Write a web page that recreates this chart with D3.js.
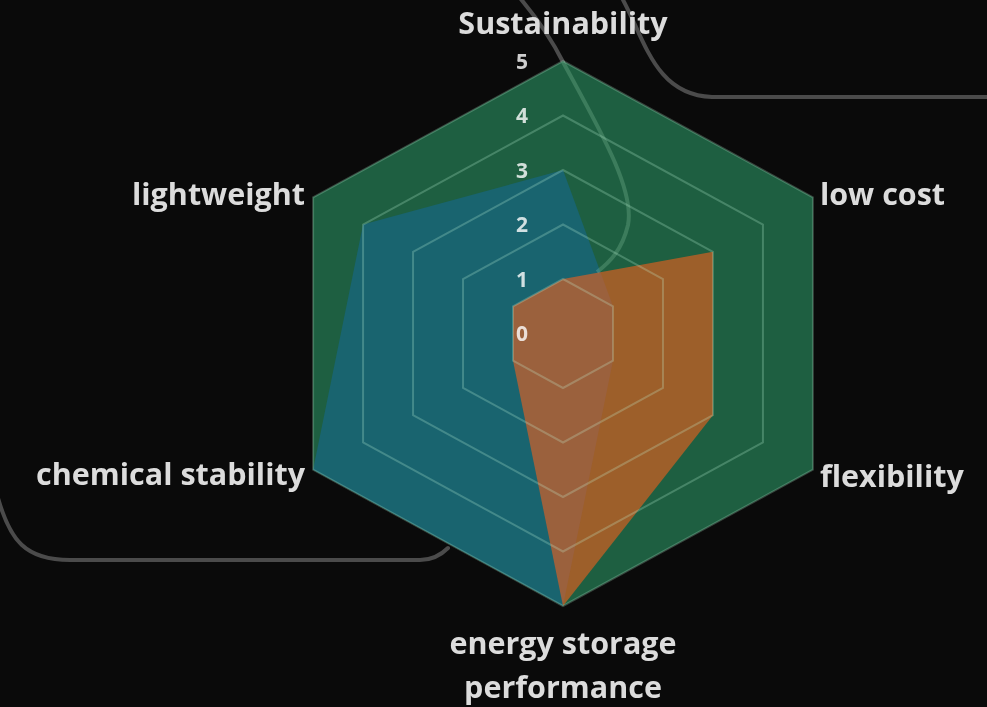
<!DOCTYPE html>
<html>
<head>
<meta charset="utf-8">
<script src="https://cdn.jsdelivr.net/npm/d3@7"></script>
<style>
  html, body { margin: 0; padding: 0; background: #0a0a0a; }
  svg { display: block; filter: blur(0.5px); }
</style>
</head>
<body>
<svg id="chart" width="987" height="707"></svg>
<script>
// ---- data ----
const categories = ["Sustainability", "low cost", "flexibility", "energy storage performance", "chemical stability", "lightweight"];
const seriesGreen  = [5, 5, 5, 5, 5, 5];
const seriesBlue   = [3, 1, 1, 5, 5, 4];
const seriesOrange = [1, 3, 3, 5, 1, 1];
const tickValues = [0, 1, 2, 3, 4, 5];

// ---- layout ----
const W = 987, H = 707;
const cx = 563, cy = 333.5, R = 272.5, sx = 1.059;
const svg = d3.select("#chart");
svg.append("rect").attr("width", W).attr("height", H).attr("fill", "#0a0a0a");

const r = d3.scaleLinear().domain([0, 5]).range([0, R]);
const angle = d3.scalePoint().domain(d3.range(categories.length)).range([0, 2 * Math.PI * (categories.length - 1) / categories.length]);

const radial = d3.lineRadial()
  .angle((d, i) => angle(i))
  .radius(d => r(d))
  .curve(d3.curveLinearClosed);

// decorative slide connectors (background)
const deco = svg.append("g").attr("fill", "none").attr("stroke", "#4b4b4b").attr("stroke-width", 4).attr("stroke-linecap", "round");
deco.append("path").attr("d", "M622,-2 C645,40 655,95 712,97 L990,97");
deco.append("path").attr("d", "M-2,498 C10,540 25,560 70,560 L420,560 C432,560 440,556 448,548");
deco.append("path").attr("d", "M520,-2 C540,22 552,40 563,62");

const g = svg.append("g").attr("transform", `translate(${cx},${cy}) scale(${sx},1)`);

const series = [
  { vals: seriesGreen,  fill: "#1e5f41", op: 1 },
  { vals: seriesBlue,   fill: "#19646f", op: 1 },
  { vals: seriesOrange, fill: "#fa5f19", op: 0.58 }
];
g.selectAll("path.series").data(series).join("path")
  .attr("class", "series")
  .attr("d", s => radial(s.vals))
  .attr("fill", s => s.fill)
  .attr("fill-opacity", s => s.op)
  .attr("stroke", "none");

// grid rings on top (semi-transparent like the reference)
g.selectAll("path.ring").data(tickValues.filter(t => t > 0)).join("path")
  .attr("class", "ring")
  .attr("d", t => radial(categories.map(() => t)))
  .attr("fill", "none")
  .attr("stroke", "rgba(200,255,225,0.24)")
  .attr("stroke-width", 2)
  .attr("vector-effect", "non-scaling-stroke");

// decorative line crossing the chart (faint over fills)
svg.append("path").attr("d", "M563,62 C600,130 635,190 628,225 C622,250 610,262 597,272")
  .attr("fill", "none").attr("stroke", "rgba(180,240,200,0.2)").attr("stroke-width", 4);

// tick labels
svg.selectAll("text.tick").data(tickValues).join("text")
  .attr("class", "tick")
  .attr("x", 522)
  .attr("y", t => cy - r(t))
  .attr("dy", "0.36em")
  .attr("text-anchor", "middle")
  .attr("font-family", "'Open Sans', sans-serif")
  .attr("font-weight", 700)
  .attr("font-size", 21)
  .attr("fill", "#ffffff")
  .attr("fill-opacity", 0.8)
  .text(t => t);

// axis labels
function pt(i, v) {
  const a = angle(i);
  return [cx + Math.sin(a) * r(v) * sx, cy - Math.cos(a) * r(v)];
}
const labelPos = [
  { dx: 0, dy: -27, anchor: "middle" },
  { dx: 7, dy: 8, anchor: "start" },
  { dx: 7, dy: 17, anchor: "start" },
  { dx: 0, dy: 48, anchor: "middle" },
  { dx: -8, dy: 15, anchor: "end" },
  { dx: -8, dy: 8, anchor: "end" }
];
const labels = svg.append("g")
  .attr("font-family", "'Open Sans', sans-serif")
  .attr("font-weight", 700)
  .attr("font-size", 30.5)
  .attr("fill", "#dcdcdc");
categories.forEach((c, i) => {
  const p = pt(i, 5);
  const lp = labelPos[i];
  const t = labels.append("text")
    .attr("x", p[0] + lp.dx)
    .attr("y", p[1] + lp.dy)
    .attr("text-anchor", lp.anchor);
  if (c === "energy storage performance") {
    t.append("tspan").attr("x", p[0] + lp.dx).text("energy storage");
    t.append("tspan").attr("x", p[0] + lp.dx).attr("dy", 44).text("performance");
  } else {
    t.text(c);
  }
});
</script>
</body>
</html>
